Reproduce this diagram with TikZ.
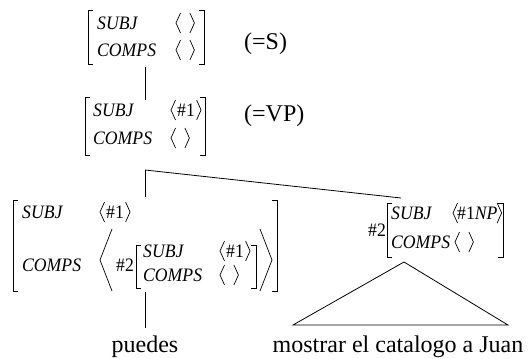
\documentclass[tikz,border=0pt]{standalone}
\usepackage{fontspec}
\setmainfont{Liberation Serif}
\newfontfamily\avmfont[FakeStretch=0.93]{Liberation Serif}
% square brackets of an attribute-value matrix: x, top y, bottom y
\newcommand\lsq[3]{\draw[brk] (#1+5,#2) -- (#1,#2) -- (#1,#3) -- (#1+5,#3);}
\newcommand\rsq[3]{\draw[brk] (#1-5,#2) -- (#1,#2) -- (#1,#3) -- (#1-5,#3);}
% angle brackets around a list node
\newcommand\angs[1]{%
  \draw[ang] ([xshift=4.5pt,yshift=10pt]#1.west) -- (#1.west) -- ([xshift=4.5pt,yshift=-10pt]#1.west);
  \draw[ang] ([xshift=-4.5pt,yshift=10pt]#1.east) -- (#1.east) -- ([xshift=-4.5pt,yshift=-10pt]#1.east);}
% an empty list
\newcommand\nolist{\rule{6pt}{0pt}}
\begin{document}
\begin{tikzpicture}[x=1pt,y=-1pt,
  feat/.style={anchor=base west, inner sep=0pt, font=\fontsize{19}{22}\avmfont\itshape},
  val/.style={anchor=base west, inner xsep=6pt, inner ysep=0pt, text height=12.6pt, text depth=0pt, font=\fontsize{19}{22}\avmfont},
  tag/.style={anchor=base west, inner sep=0pt, font=\fontsize{19}{22}\avmfont},
  lbl/.style={inner sep=0pt, font=\fontsize{24}{28}\selectfont},
  brk/.style={line width=0.9pt},
  ang/.style={line width=0.7pt},
  edge/.style={line width=0.8pt}]
\useasboundingbox (0,0) rectangle (528,359);

% S
\lsq{88}{10}{64}
\rsq{204}{10}{64}
\node[feat] (s-subj) at (97,29.3) {SUBJ};
\node[feat] (s-comps) at (97,56.3) {COMPS};
\node[val] (s-v1) at (176,29.3) {\nolist};
\node[val] (s-v2) at (176,56.3) {\nolist};
\angs{s-v1}\angs{s-v2}
\node[lbl, anchor=base west] (s-eq) at (244,49) {(=S)};

% VP
\lsq{85}{97}{155}
\rsq{205}{97}{155}
\node[feat] (vp-subj) at (93,116.3) {SUBJ};
\node[feat] (vp-comps) at (93,144.3) {COMPS};
\node[val] (vp-v1) at (171,116.3) {\#1};
\node[val] (vp-v2) at (171,144.3) {\nolist};
\angs{vp-v1}\angs{vp-v2}
\node[lbl, anchor=base west] (vp-eq) at (244,121) {(=VP)};

% left daughter
\lsq{13}{200}{291}
\rsq{277}{200}{291}
\node[feat] (l-subj) at (22,218.3) {SUBJ};
\node[feat] (l-comps) at (22,271.3) {COMPS};
\node[val] (l-v1) at (100,218.3) {\#1};
\angs{l-v1}
\draw[ang] (112,229) -- (100,260) -- (112,291);
\draw[ang] (260,229) -- (272,260) -- (260,291);
\node[tag] (l-tag) at (116,271.3) {\#2};
\lsq{136}{245}{288}
\rsq{256}{245}{288}
\node[feat] (li-subj) at (143,257.3) {SUBJ};
\node[feat] (li-comps) at (143,281.3) {COMPS};
\node[val] (li-v1) at (220,257.3) {\#1};
\node[val] (li-v2) at (220,281.3) {\nolist};
\angs{li-v1}\angs{li-v2}

% right daughter
\node[tag] (r-tag) at (368,236.3) {\#2};
\lsq{387}{203}{257}
\rsq{503}{203}{257}
\node[feat] (r-subj) at (391,219.3) {SUBJ};
\node[feat] (r-comps) at (391,248.3) {COMPS};
\node[val, inner xsep=4pt] (r-v1) at (453,219.3) {\#1\textit{NP}};
\node[val, inner xsep=6pt] (r-v2) at (455,248.3) {\nolist};
\angs{r-v1}\angs{r-v2}

% words
\node[lbl, anchor=base] (w-l) at (145,352) {puedes};
\node[lbl, anchor=base] (w-r) at (398,352) {mostrar el catalogo a Juan};

% tree edges
\coordinate (s-b) at (145,67);
\coordinate (vp-t) at (145,100);
\coordinate (vp-b) at (145,170);
\coordinate (l-t) at (145,197);
\coordinate (r-t) at (401,198);
\coordinate (l-b) at (145,292);
\coordinate (w-l-t) at (145,328);
\coordinate (r-b) at (404,262);
\coordinate (tri-l) at (293,325);
\coordinate (tri-r) at (508,325);
\draw[edge] (s-b) -- (vp-t);
\draw[edge] (vp-b) -- (l-t);
\draw[edge] (vp-b) -- (r-t);
\draw[edge] (l-b) -- (w-l-t);
\draw[edge] (r-b) -- (tri-l) -- (tri-r) -- cycle;
\end{tikzpicture}
\end{document}
